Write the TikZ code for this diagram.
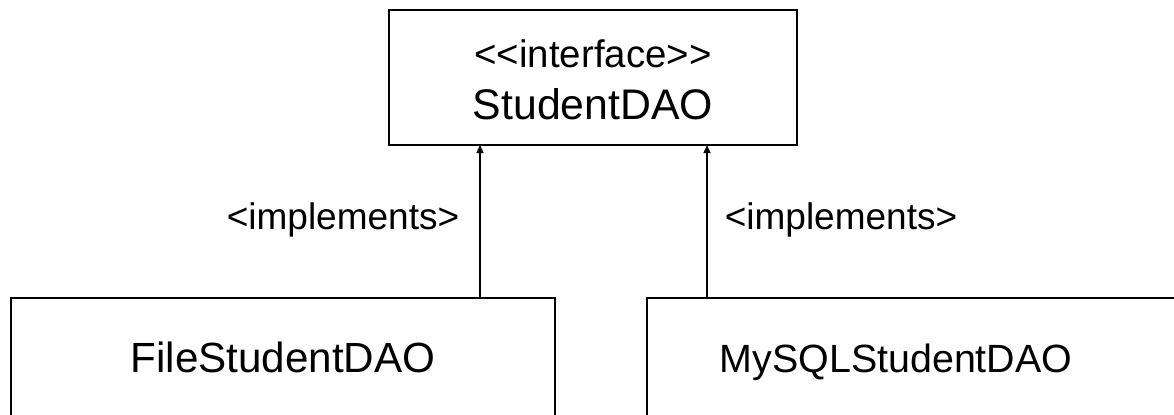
\documentclass[tikz,border=0pt]{standalone}
\usepackage{fontspec}
\setmainfont{Liberation Sans}
\usetikzlibrary{calc,arrows.meta}
\newcommand{\lt}{\textless\kern0pt}
\newcommand{\gt}{\kern0pt\textgreater}
\begin{document}
\begin{tikzpicture}[x=0.5pt,y=-0.5pt,
  box/.style={draw, line width=1pt, inner sep=0pt, outer sep=0pt, fill=white},
  txt/.style={inner sep=0pt, anchor=base},
  lbl/.style={inner sep=0pt, font=\fontsize{18.5}{22}\selectfont},
  arr/.style={line width=0.7pt, -{Triangle[length=4pt,width=3.5pt]}}]
\useasboundingbox (0,0) rectangle (1174,414);
\clip (0,0) rectangle (1174,414);
\node[box, minimum width=204pt, minimum height=67.5pt] (iface) at (593,77.5) {};
\node[txt, font=\fontsize{19.2}{24}\selectfont] (ifacetext1) at ($(iface.north)+(0,57)$) {\lt\lt interface\gt\gt};
\node[txt, font=\fontsize{21.4}{25}\selectfont] (ifacetext2) at ($(iface.north)+(0,109)$) {StudentDAO};
\node[box, minimum width=272pt, minimum height=80pt] (file) at (283,378) {};
\node[txt, font=\fontsize{21.1}{25}\selectfont] (filetext) at ($(file.north)+(0,74)$) {FileStudentDAO};
\node[box, minimum width=300pt, minimum height=80pt] (mysql) at (947,378) {};
\node[txt, font=\fontsize{19.7}{24}\selectfont] (mysqltext) at ($(mysql.north)+(-51,74)$) {MySQLStudentDAO};
\coordinate (a1) at ($(iface.south)+(-113,0)$);
\coordinate (a2) at ($(iface.south)+(114,0)$);
\draw[arr] (a1 |- file.north) -- (a1);
\draw[arr] (a2 |- mysql.north) -- (a2);
\node[lbl] (l1) at (343,220) {\lt implements\gt};
\node[lbl] (l2) at (841,220) {\lt implements\gt};
\end{tikzpicture}
\end{document}
